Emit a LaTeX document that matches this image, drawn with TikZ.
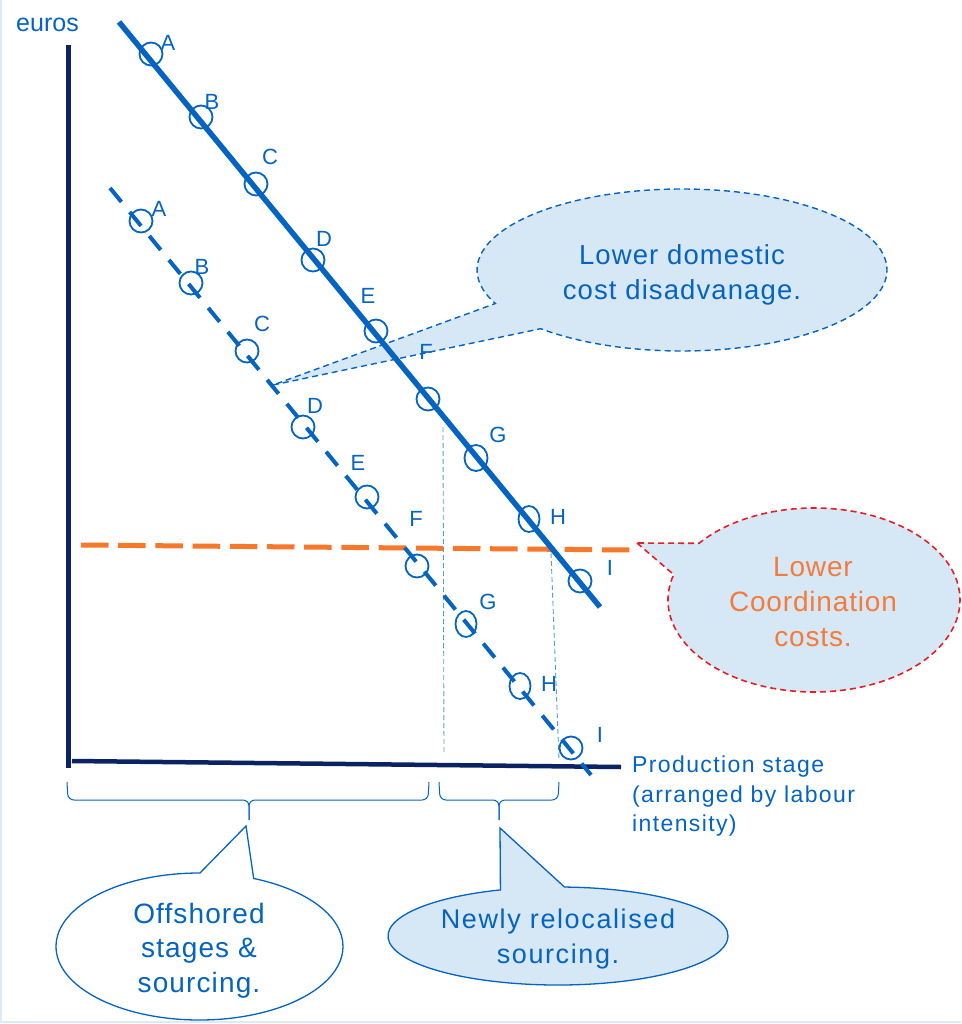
\documentclass[tikz,border=0pt]{standalone}
\usepackage{fontspec}
\setmainfont{Liberation Sans}
\newfontfamily\fA[LetterSpace=4]{Liberation Sans}
\newfontfamily\fB[LetterSpace=3]{Liberation Sans}
\newfontfamily\fC[LetterSpace=6]{Liberation Sans}
\usetikzlibrary{shapes.geometric,shapes.callouts}

\definecolor{mainblue}{HTML}{0563C1}
\definecolor{axisnavy}{HTML}{0B2362}
\definecolor{costorange}{HTML}{F6782B}
\definecolor{textorange}{HTML}{F47B3B}
\definecolor{bordered}{HTML}{E81E25}
\definecolor{bubblefill}{HTML}{D6E8F5}
\definecolor{guideblue}{HTML}{5B9BD5}
\definecolor{framec}{HTML}{DDEBF7}

\begin{document}
\begin{tikzpicture}[x=1pt,y=-1pt,
  dot/.style={circle,draw=mainblue,line width=1.8pt,minimum size=23pt,inner sep=0pt},
  oval/.style={ellipse,draw=mainblue,line width=1.8pt,minimum width=21pt,minimum height=26pt,inner sep=0pt},
  lbl/.style={text=mainblue,font=\fontsize{22}{24}\selectfont,inner sep=0pt},
  guide/.style={guideblue,line width=0.9pt,dash pattern=on 5pt off 3pt},
  axisline/.style={axisnavy,line width=5pt},
  bubble/.style={ellipse callout,inner sep=0pt,callout pointer arc=22},
  ctext/.style={anchor=base,inner sep=0pt},
  bracec/.style={mainblue,line width=1pt,rounded corners=6pt}
]
\useasboundingbox (0,0) rectangle (961,1024);

% light frame on the left and bottom edges
\draw[framec,line width=2pt] (1,0) -- (1,1022) -- (961,1022);

% thin guides from the curves down to the axis
\coordinate (g1t) at (443,427); \coordinate (g1b) at (444,753);
\coordinate (g2t) at (551,553); \coordinate (g2b) at (559,760);
\draw[guide] (g1t) -- (g1b);
\draw[guide] (g2t) -- (g2b);

% speech bubbles
\coordinate (tipD) at (273,385);
\node[bubble,draw=mainblue,line width=1.4pt,dash pattern=on 6pt off 4pt,fill=bubblefill,
  callout absolute pointer={(tipD)},minimum width=410pt,minimum height=162pt] (cD) at (682,270) {};
\node[ctext,text=mainblue,font=\fA\fontsize{27.5}{35}\selectfont] (tD1) at (682,264) {Lower domestic};
\node[ctext,text=mainblue,font=\fA\fontsize{27.5}{35}\selectfont] (tD2) at (682,299) {cost disadvanage.};

\coordinate (tipC) at (637,543);
\node[bubble,draw=bordered,line width=1.6pt,dash pattern=on 6pt off 4pt,fill=bubblefill,
  callout absolute pointer={(tipC)},minimum width=292pt,minimum height=184pt] (cC) at (814,600) {};
\node[ctext,text=textorange,font=\fB\fontsize{28}{35}\selectfont] (tC1) at (813,576) {Lower};
\node[ctext,text=textorange,font=\fB\fontsize{28}{35}\selectfont] (tC2) at (813,611) {Coordination};
\node[ctext,text=textorange,font=\fB\fontsize{28}{35}\selectfont] (tC3) at (813,646) {costs.};

\coordinate (tipO) at (246,826);
\node[bubble,draw=mainblue,line width=1.3pt,fill=white,
  callout absolute pointer={(tipO)},minimum width=287pt,minimum height=147pt] (cO) at (199.5,946.5) {};
\node[ctext,text=mainblue,font=\fA\fontsize{28}{35}\selectfont] (tO1) at (199,923) {Offshored};
\node[ctext,text=mainblue,font=\fA\fontsize{28}{35}\selectfont] (tO2) at (199,957) {stages \&};
\node[ctext,text=mainblue,font=\fA\fontsize{28}{35}\selectfont] (tO3) at (199,992) {sourcing.};

\coordinate (tipN) at (500,828);
\node[bubble,draw=mainblue,line width=1.3pt,fill=bubblefill,
  callout absolute pointer={(tipN)},minimum width=340pt,minimum height=98pt] (cN) at (558,936) {};
\node[ctext,text=mainblue,font=\fC\fontsize{27}{35}\selectfont] (tN1) at (558,928) {Newly relocalised};
\node[ctext,text=mainblue,font=\fC\fontsize{27}{35}\selectfont] (tN2) at (558,963) {sourcing.};

% axes
\coordinate (yTop) at (68,45); \coordinate (yBot) at (68,768);
\coordinate (xL) at (72,761); \coordinate (xR) at (621,767);
\draw[axisline] (yTop) -- (yBot);
\draw[axisnavy,line width=4.5pt] (xL) -- (xR);

\node[text=mainblue,font=\fontsize{25}{28}\selectfont,inner sep=0pt] (euros) at (47.5,24.5) {euros};
\node[anchor=base west,inner sep=0pt,text=mainblue,font=\fC\fontsize{23}{30}\selectfont] (ps1) at (632,772) {Production stage};
\node[anchor=base west,inner sep=0pt,text=mainblue,font=\fC\fontsize{23}{30}\selectfont] (ps2) at (632,802) {(arranged by labour};
\node[anchor=base west,inner sep=0pt,text=mainblue,font=\fC\fontsize{23}{30}\selectfont] (ps3) at (632,831) {intensity)};

% coordination cost level
\coordinate (oL) at (81,545); \coordinate (oR) at (630,550);
\draw[costorange,line width=5pt,dash pattern=on 27.5pt off 9.7pt] (oL) -- (oR);

% domestic cost curve (solid) and foreign cost curve (dashed)
\coordinate (sT) at (119,22); \coordinate (sB) at (600,607);
\draw[mainblue,line width=5.5pt] (sT) -- (sB);
\coordinate (dT) at (110,188); \coordinate (dB) at (591,775);
\draw[mainblue,line width=4pt,dash pattern=on 18pt off 13pt] (dT) -- (dB);

% stage markers on the solid curve
\foreach \n/\x/\y in {A/151/54,B/201/117,C/256/184,D/313/260,E/376/331,F/428/399,I/580/581}
  \node[dot] (s\n) at (\x,\y) {};
\node[oval,minimum width=23pt] (sG) at (476,458) {};
\node[oval] (sH) at (529,519) {};
\foreach \n/\x/\y in {A/168/43,B/212/102,C/270/157,D/324/239,E/368/296,F/426/352,G/498/435,H/558/517,I/610/568}
  \node[lbl] (ls\n) at (\x,\y) {\n};

% stage markers on the dashed curve
\foreach \n/\x/\y in {A/141/221,B/191/283,C/247/351,D/303/427,E/367/497,F/417/566,I/571/748}
  \node[dot] (d\n) at (\x,\y) {};
\node[oval] (dG) at (466,624) {};
\node[oval] (dH) at (520,686) {};
\foreach \n/\x/\y in {A/159/209,B/202/267,C/262/324,D/315/406,E/358/463,F/416/519,G/488/602,H/549/684,I/600/735}
  \node[lbl] (ld\n) at (\x,\y) {\n};

% braces under the axis
\draw[bracec] (67,782) -- (68,800) -- (249,800) -- (249,820);
\draw[bracec] (429,782) -- (428,800) -- (249,800) -- (249,820);
\draw[bracec] (439,782) -- (440,800) -- (499,800) -- (499,820);
\draw[bracec] (559,782) -- (558,800) -- (499,800) -- (499,820);
\end{tikzpicture}
\end{document}
